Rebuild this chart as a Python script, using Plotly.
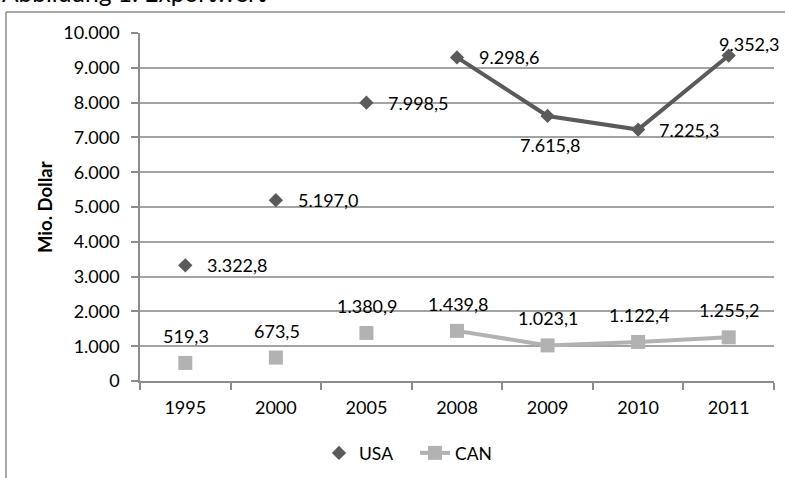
import plotly.graph_objects as go

years = ["1995", "2000", "2005", "2008", "2009", "2010", "2011"]
usa = [3322.8, 5197.0, 7998.5, 9298.6, 7615.8, 7225.3, 9352.3]
can = [519.3, 673.5, 1380.9, 1439.8, 1023.1, 1122.4, 1255.2]
usa_labels = ["3.322,8", "5.197,0", "7.998,5", "9.298,6", "7.615,8", "7.225,3", "9.352,3"]
can_labels = ["519,3", "673,5", "1.380,9", "1.439,8", "1.023,1", "1.122,4", "1.255,2"]
ytick_vals = [0, 1000, 2000, 3000, 4000, 5000, 6000, 7000, 8000, 9000, 10000]
ytick_text = ["0", "1.000", "2.000", "3.000", "4.000", "5.000", "6.000", "7.000", "8.000", "9.000", "10.000"]
line_start = 3  # lines are drawn from 2008 onward

FONT = "Lato"
FS = 18
USA_C = "#5a5a5a"
CAN_C = "#b2b2b2"

fig = go.Figure()
fig.add_trace(go.Scatter(x=years[line_start:], y=usa[line_start:], mode="lines",
                         line=dict(color=USA_C, width=4), showlegend=False, hoverinfo="skip"))
fig.add_trace(go.Scatter(x=years[line_start:], y=can[line_start:], mode="lines",
                         line=dict(color=CAN_C, width=4), showlegend=False, hoverinfo="skip"))
fig.add_trace(go.Scatter(x=years, y=usa, mode="markers", name="USA",
                         marker=dict(symbol="diamond", size=11, color=USA_C)))
fig.add_trace(go.Scatter(x=years, y=can, mode="markers", name="CAN",
                         marker=dict(symbol="square", size=14, color=CAN_C), showlegend=False))
fig.add_trace(go.Scatter(x=[None], y=[None], mode="lines+markers", name="CAN",
                         line=dict(color=CAN_C, width=4),
                         marker=dict(symbol="square", size=14, color=CAN_C)))

# label placement (pixel offsets): (xshift, yshift, xanchor)
usa_pos = [(20, 0, "left"), (20, 0, "left"), (20, 0, "left"), (20, 0, "left"),
           (3, -29, "center"), (19, 0, "left"), (21, 12, "center")]
annotations = []
for i, (v, t) in enumerate(zip(usa, usa_labels)):
    xs, ys, xa = usa_pos[i]
    annotations.append(dict(x=i, y=v, text=t, showarrow=False, xshift=xs, yshift=ys,
                            xanchor=xa, yanchor="middle", font=dict(family=FONT, size=FS, color="#000")))
for i, (v, t) in enumerate(zip(can, can_labels)):
    annotations.append(dict(x=i, y=v, text=t, showarrow=False, xshift=1, yshift=27,
                            xanchor="center", yanchor="middle", font=dict(family=FONT, size=FS, color="#000")))
annotations.append(dict(xref="paper", yref="paper", x=-0.1498, y=0.5, text="<b>Mio. Dollar</b>",
                        textangle=-90, showarrow=False, xanchor="center", yanchor="middle",
                        font=dict(family=FONT, size=18.5, color="#000")))
annotations.append(dict(xref="paper", yref="paper", x=-0.2208, y=1.069, text="Abbildung 1: Exportwert",
                        showarrow=False, xanchor="left", yanchor="bottom",
                        font=dict(family=FONT, size=24.5, color="#000")))

shapes = [
    dict(type="line", xref="paper", yref="paper", x0=-0.2114, x1=-0.2114, y0=1.0603, y1=-0.5,
         line=dict(color="#8c8c8c", width=1.5)),
    dict(type="line", xref="paper", yref="paper", x0=-0.2114, x1=1.1, y0=1.0603, y1=1.0603,
         line=dict(color="#8c8c8c", width=1.5)),
]

fig.update_layout(
    width=785, height=478,
    margin=dict(l=140, r=11, t=33, b=97, autoexpand=False),
    paper_bgcolor="white", plot_bgcolor="white",
    font=dict(family=FONT, size=FS, color="#000"),
    showlegend=True,
    legend=dict(orientation="h", xref="container", yref="container", x=319 / 785, xanchor="left",
                y=1 - 453 / 478, yanchor="middle",
                entrywidth=51, entrywidthmode="pixels",
                font=dict(family=FONT, size=17.5, color="#000"), bgcolor="rgba(0,0,0,0)"),
    annotations=annotations,
    shapes=shapes,
    xaxis=dict(type="category", categoryorder="array", categoryarray=years,
               range=[-0.5, len(years) - 0.5], autorange=False,
               showgrid=False, showline=True, linecolor="#8c8c8c", linewidth=1.5,
               ticks="outside", tickson="boundaries", ticklen=7, tickcolor="#8c8c8c", tickwidth=1.5,
               ticklabelstandoff=10,
               tickangle=0, tickfont=dict(family=FONT, size=FS, color="#000"), zeroline=False),
    yaxis=dict(range=[0, 10000], autorange=False, tickvals=ytick_vals, ticktext=ytick_text,
               showgrid=True, gridcolor="#a3a3a3", gridwidth=1.5,
               showline=True, linecolor="#8c8c8c", linewidth=1.5,
               ticks="outside", ticklen=7, tickcolor="#8c8c8c", tickwidth=1.5, ticklabelstandoff=8,
               tickfont=dict(family=FONT, size=FS, color="#000"), zeroline=False),
)

fig.write_html("out.html", config={"displayModeBar": False},
               post_script="document.body.style.margin='0px';")
